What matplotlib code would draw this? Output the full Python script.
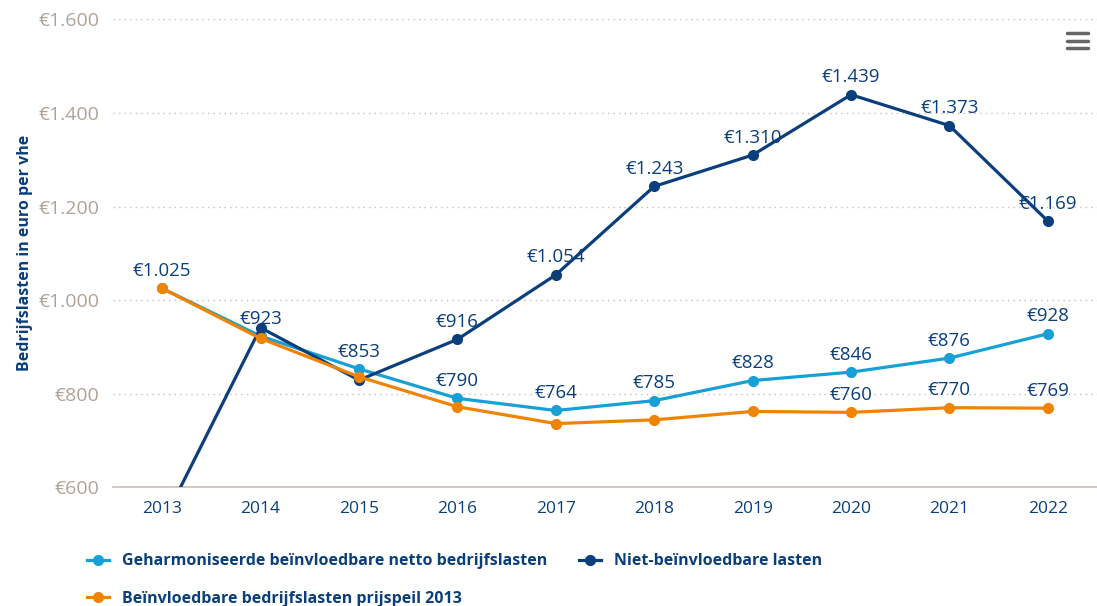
import matplotlib.pyplot as plt
from matplotlib.lines import Line2D
from matplotlib.ticker import FuncFormatter

plt.rcParams['font.family'] = ['Open Sans', 'DejaVu Sans']

years = [2013, 2014, 2015, 2016, 2017, 2018, 2019, 2020, 2021, 2022]
geharmoniseerd = [1025, 923, 853, 790, 764, 785, 828, 846, 876, 928]
niet_beinvloedbaar = [522, 941, 829, 916, 1054, 1243, 1310, 1439, 1373, 1169]
prijspeil_2013 = [1025, 918, 836, 772, 736, 744, 762, 760, 770, 769]

# which points carry a data label (the others were hidden in the original)
labels_geh = [True] * 10
labels_niet = [False, False, False, True, True, True, True, True, True, True]
labels_prijs = [False] * 7 + [True, True, True]

c_light = '#16a0d6'
c_navy = '#0a3f7c'
c_orange = '#f08300'
c_grid = '#c9bfb4'
c_tick = '#aea398'


def euro(v, pos=None):
    return '€' + f'{int(round(v)):,}'.replace(',', '.')


fig = plt.figure(figsize=(10.97, 6.06), dpi=100)
ax = fig.add_axes([0.103, 0.196, 0.897, 0.772])

series = [
    (geharmoniseerd, c_light, labels_geh, 'Geharmoniseerde beïnvloedbare netto bedrijfslasten'),
    (niet_beinvloedbaar, c_navy, labels_niet, 'Niet-beïnvloedbare lasten'),
    (prijspeil_2013, c_orange, labels_prijs, 'Beïnvloedbare bedrijfslasten prijspeil 2013'),
]

handles = []
for vals, col, show, name in series:
    h, = ax.plot(years, vals, color=col, lw=2.3, marker='o', ms=7, label=name, zorder=3)
    handles.append(h)
    for x, v, s in zip(years, vals, show):
        if s:
            ax.annotate(euro(v), (x, v), xytext=(0, 6), textcoords='offset points',
                        ha='center', va='bottom', fontsize=13.5, color=c_navy, zorder=5)

ax.set_xlim(2012.5, 2022.5)
ax.set_ylim(600, 1600)
ax.set_yticks([600, 800, 1000, 1200, 1400, 1600])
ax.yaxis.set_major_formatter(FuncFormatter(euro))
ax.set_xticks(years)
ax.grid(axis='y', color=c_grid, linestyle=(0, (1, 3)), lw=1)
ax.set_axisbelow(True)
for s in ['top', 'right', 'left']:
    ax.spines[s].set_visible(False)
ax.spines['bottom'].set_color(c_grid)
ax.spines['bottom'].set_linewidth(1.2)
ax.tick_params(axis='y', length=0, colors=c_tick, labelsize=14, pad=10)
ax.tick_params(axis='x', length=0, colors=c_navy, labelsize=12.5, pad=10)
ax.set_ylabel('Bedrijfslasten in euro per vhe', color=c_navy, fontsize=11.5,
              fontweight='bold', labelpad=4)

order = [handles[0], handles[2], handles[1]]
fig.legend(order, [h.get_label() for h in order], ncol=2, loc='lower left',
           bbox_to_anchor=(0.066, -0.025), frameon=False,
           labelcolor=c_navy, handlelength=1.4, columnspacing=2.0,
           labelspacing=1.35, prop={'weight': 'bold', 'size': 11.5})

# menu icon top right
for yy in [0.946, 0.933, 0.920]:
    fig.add_artist(Line2D([0.973, 0.992], [yy, yy], color='#666666', lw=2.5,
                          solid_capstyle='round'))

fig.savefig('out.png', dpi=100)
